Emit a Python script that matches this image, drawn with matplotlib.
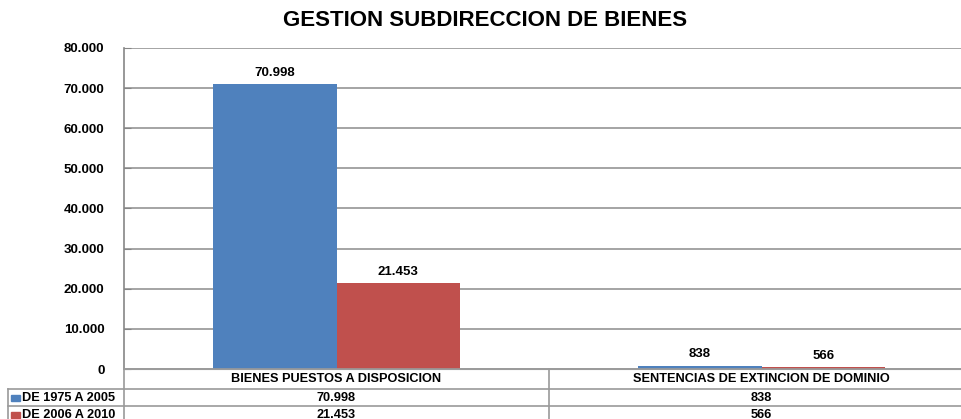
import matplotlib
matplotlib.use("Agg")
import matplotlib.pyplot as plt
from matplotlib import font_manager
from matplotlib.patches import Rectangle
import numpy as np

categories = ["BIENES PUESTOS A DISPOSICION", "SENTENCIAS DE EXTINCION DE DOMINIO"]
series_names = ["DE 1975 A 2005", "DE 2006 A 2010"]
values_1975 = [70998, 838]
values_2006 = [21453, 566]
colors = ["#4F81BD", "#C0504D"]
yticks = [0, 10000, 20000, 30000, 40000, 50000, 60000, 70000, 80000]

def fmt(v):
    return "{:,}".format(int(v)).replace(",", ".")

plt.rcParams["font.family"] = ["Liberation Sans", "DejaVu Sans"]
plt.rcParams["font.weight"] = "bold"

W, H = 961, 419
fig = plt.figure(figsize=(W / 100, H / 100), dpi=100)
ax = fig.add_axes([124 / W, (H - 369) / H, (974 - 124) / W, (369 - 48) / H])

x = np.arange(len(categories))
bw = 0.29
series = [values_1975, values_2006]
for i, vals in enumerate(series):
    pos = x - bw / 2 + i * bw
    bars = ax.bar(pos, vals, bw, color=colors[i], zorder=3, clip_on=False)
    for b, v in zip(bars, vals):
        ax.text(b.get_x() + b.get_width() / 2, v + 1300, fmt(v),
                ha="center", va="bottom", fontsize=9.5, fontweight="bold", zorder=4)

ax.set_xlim(-0.5, 1.5)
ax.set_ylim(0, 80000)
ax.set_yticks(yticks)
ax.set_yticklabels([fmt(t) for t in yticks], fontsize=9.5, fontweight="bold")
ax.tick_params(axis="y", direction="in", length=5, color="#868686", pad=14)
ax.set_xticks([])
ax.grid(axis="y", color="#8c8c8c", linewidth=1.1, zorder=0)
for s in ["top", "right"]:
    ax.spines[s].set_visible(False)
ax.spines["left"].set_color("#868686")
ax.spines["left"].set_linewidth(1.2)
ax.spines["bottom"].set_color("#a0a0a0")

# data table under the axis
trans_px = fig.transFigure
def fy(py):
    return (H - py) / H
def fx(px):
    return px / W

line_c = "#9a9a9a"
row_tops = [369, 389, 406, 423]
left_px, axis_px, right_px = 8, 124, 974
mid_px = fig.transFigure.inverted().transform(ax.transData.transform((0.5, 0)))[0] * W

# horizontal lines
fig.add_artist(plt.Line2D([fx(axis_px), fx(right_px)], [fy(369)] * 2, color=line_c, lw=1.2, transform=trans_px))
for py in row_tops[1:]:
    fig.add_artist(plt.Line2D([fx(left_px), fx(right_px)], [fy(py)] * 2, color=line_c, lw=1.2, transform=trans_px))
# vertical lines
fig.add_artist(plt.Line2D([fx(left_px)] * 2, [fy(389), fy(423)], color=line_c, lw=1.2, transform=trans_px))
fig.add_artist(plt.Line2D([fx(axis_px)] * 2, [fy(369), fy(423)], color=line_c, lw=1.2, transform=trans_px))
fig.add_artist(plt.Line2D([fx(mid_px)] * 2, [fy(369), fy(423)], color=line_c, lw=1.2, transform=trans_px))

# header row: category names
for xi, cat in zip(x, categories):
    cx = fig.transFigure.inverted().transform(ax.transData.transform((xi, 0)))[0]
    fig.text(cx, fy((369 + 389) / 2), cat, ha="center", va="center", fontsize=9.2, fontweight="bold")

# data rows
for r, (name, vals) in enumerate(zip(series_names, series)):
    top, bot = row_tops[r + 1], row_tops[r + 2]
    cy = fy((top + bot) / 2)
    fig.add_artist(Rectangle((fx(11), fy((top + bot) / 2 + 3)), 9 / W, 6 / H,
                             color=colors[r], transform=trans_px))
    fig.text(fx(22), cy, name, ha="left", va="center", fontsize=9.2, fontweight="bold")
    for xi, v in zip(x, vals):
        cx = fig.transFigure.inverted().transform(ax.transData.transform((xi, 0)))[0]
        fig.text(cx, cy, fmt(v), ha="center", va="center", fontsize=9.2, fontweight="bold")

fig.text(485 / W, fy(21), "GESTION SUBDIRECCION DE BIENES", ha="center", va="center",
         fontsize=16, fontweight="bold")

fig.savefig("out.png", dpi=100)
